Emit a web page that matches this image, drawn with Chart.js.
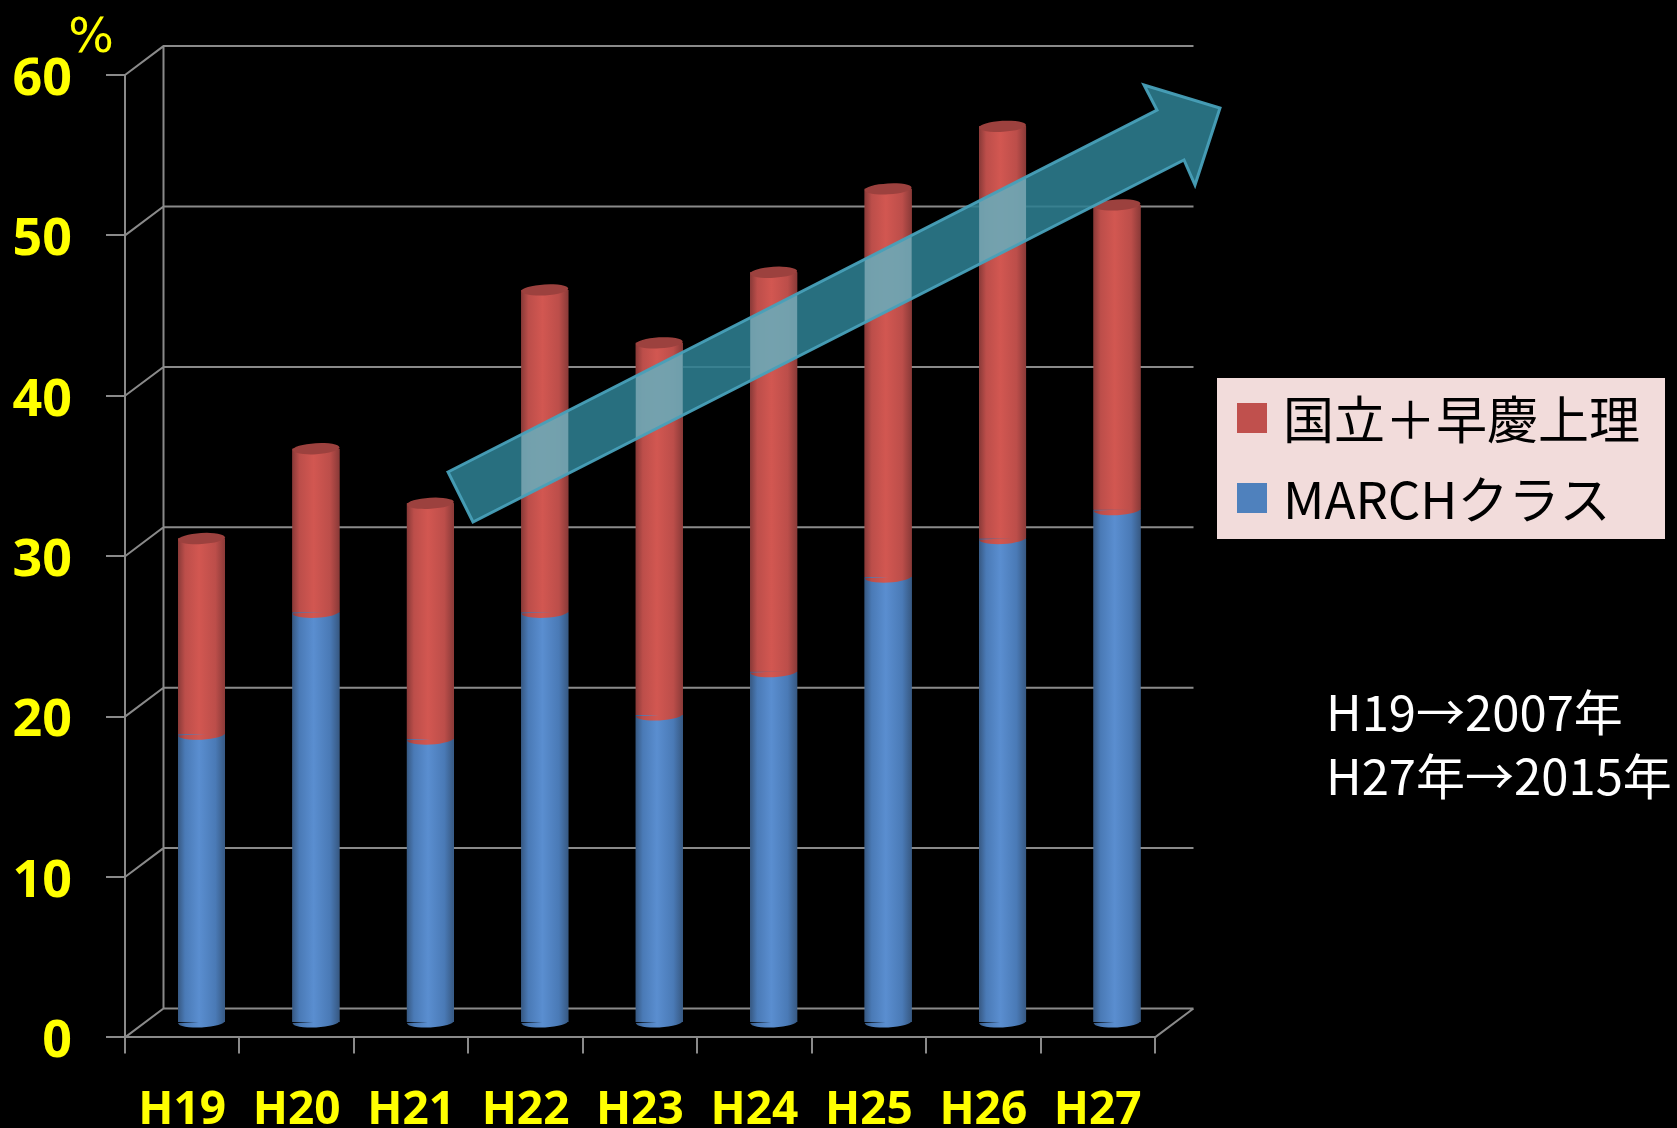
<!DOCTYPE html>
<html>
<head>
<meta charset="utf-8">
<script src="https://cdn.jsdelivr.net/npm/chart.js@4.4.1/dist/chart.umd.min.js"></script>
<style>
    html, body { margin: 0; padding: 0; background: #000; }
    canvas { display: block; }
</style>
</head>
<body>
<canvas id="chart" width="1677" height="1128"></canvas>
<script>
// data
const years = ["H19", "H20", "H21", "H22", "H23", "H24", "H25", "H26", "H27"];
const marchValues = [18.0, 25.6, 17.7, 25.6, 19.2, 21.9, 27.8, 30.2, 32.0];
const kokuritsuValues = [12.2, 10.2, 14.7, 20.1, 23.2, 24.9, 24.2, 25.7, 19.0];
const yTicks = [0, 10, 20, 30, 40, 50, 60];
const seriesNames = ["MARCHクラス", "国立＋早慶上理"];
const noteLines = ["H19→2007年", "H27年→2015年"];
const unitLabel = "%";

const BLUE = "#4F81BD";
const RED = "#C0504D";
const GRID = "#8A8A8A";
const YELLOW = "#FFFF00";
const DEPTH_X = 38.5, DEPTH_Y = -28.9; // back wall offset
const BAR_SHIFT_X = DEPTH_X / 2, BAR_SHIFT_Y = DEPTH_Y / 2; // bars sit at mid depth

// trend arrow outline (decoration)
const arrowShape = [[448, 472], [1157, 110], [1144, 85], [1220, 108], [1195, 185], [1184, 160], [473, 522]];

function cylGradient(ctx, x0, w, c) {
    const g = ctx.createLinearGradient(x0, 0, x0 + w, 0);
    g.addColorStop(0, c[0]);
    g.addColorStop(0.15, c[1]);
    g.addColorStop(0.45, c[2]);
    g.addColorStop(0.8, c[1]);
    g.addColorStop(1, c[0]);
    return g;
}
const blueShades = ["#375983", "#4A7AB6", "#5A8ED0"];
const redShades = ["#8A3A38", "#BC4E4A", "#D25751"];

function arrowPath(ctx) {
    ctx.beginPath();
    arrowShape.forEach((p, i) => i ? ctx.lineTo(p[0], p[1]) : ctx.moveTo(p[0], p[1]));
    ctx.closePath();
}

const pseudo3d = {
    id: "pseudo3d",
    beforeDatasetsDraw(chart) {
        const { ctx, scales: { x, y } } = chart;
        const left = x.left, right = x.right;
        ctx.save();
        ctx.strokeStyle = GRID;
        ctx.lineWidth = 2;
        ctx.beginPath();
        yTicks.forEach(v => {
            const py = y.getPixelForValue(v);
            ctx.moveTo(left, py);
            ctx.lineTo(left + DEPTH_X, py + DEPTH_Y);
            ctx.lineTo(right + DEPTH_X, py + DEPTH_Y);
        });
        const p0 = y.getPixelForValue(0), pTop = y.getPixelForValue(yTicks[yTicks.length - 1]);
        ctx.moveTo(left + DEPTH_X, p0 + DEPTH_Y);
        ctx.lineTo(left + DEPTH_X, pTop + DEPTH_Y);
        ctx.moveTo(right, p0);
        ctx.lineTo(right + DEPTH_X, p0 + DEPTH_Y);
        ctx.stroke();
        ctx.restore();

        ctx.save();
        ctx.translate(BAR_SHIFT_X, BAR_SHIFT_Y);
    },
    afterDatasetsDraw(chart) {
        const { ctx } = chart;
        const ry = 5.5;
        chart.data.datasets.forEach((ds, di) => {
            const meta = chart.getDatasetMeta(di);
            const shades = di === 0 ? blueShades : redShades;
            meta.data.forEach(el => {
                const w = el.width, x0 = el.x - w / 2;
                const g = cylGradient(ctx, x0, w, shades);
                ctx.fillStyle = g;
                ctx.fillRect(x0, el.y, w, el.base - el.y);
                // rounded front bottom
                ctx.beginPath();
                ctx.ellipse(el.x, el.base, w / 2, ry, -0.05, 0, Math.PI);
                ctx.fill();
                if (di === chart.data.datasets.length - 1) {
                    ctx.beginPath();
                    ctx.ellipse(el.x, el.y, w / 2, ry, -0.06, 0, Math.PI * 2);
                    ctx.fillStyle = "#9C413E";
                    ctx.fill();
                }
            });
        });
        ctx.restore();

        // trend arrow
        ctx.save();
        arrowPath(ctx);
        ctx.fillStyle = "rgba(46,126,145,0.88)";
        ctx.fill();
        ctx.clip();
        ctx.translate(BAR_SHIFT_X, BAR_SHIFT_Y);
        ctx.fillStyle = "rgba(200,225,235,0.38)";
        chart.getDatasetMeta(1).data.forEach(el => {
            ctx.fillRect(el.x - el.width / 2, el.y, el.width, el.base - el.y);
        });
        ctx.restore();
        ctx.save();
        arrowPath(ctx);
        ctx.strokeStyle = "rgba(72,160,185,0.95)";
        ctx.lineWidth = 3;
        ctx.lineJoin = "miter";
        ctx.stroke();
        ctx.restore();
    },
    afterDraw(chart) {
        const { ctx } = chart;
        ctx.save();
        // unit
        ctx.fillStyle = YELLOW;
        ctx.font = "48px 'DejaVu Sans'";
        ctx.textAlign = "center";
        ctx.textBaseline = "middle";
        ctx.fillText(unitLabel, 91, 40);

        // legend (reverse order, like the stack)
        ctx.fillStyle = "#F2DCDB";
        ctx.fillRect(1217, 378, 448, 161);
        ctx.textAlign = "left";
        ctx.font = "51px 'Noto Sans CJK JP'";
        const items = chart.data.datasets.slice().reverse();
        items.forEach((ds, i) => {
            const cy = 418 + i * 80;
            ctx.fillStyle = ds.backgroundColor;
            ctx.fillRect(1237, cy - 15, 30, 30);
            ctx.fillStyle = "#000";
            ctx.fillText(ds.label, 1283, cy + 2);
        });

        // notes
        ctx.fillStyle = "#FFFFFF";
        ctx.font = "49px 'Noto Sans CJK JP'";
        ctx.textBaseline = "alphabetic";
        noteLines.forEach((t, i) => ctx.fillText(t, 1326, 731 + i * 64));
        ctx.restore();
    }
};

new Chart(document.getElementById("chart"), {
    type: "bar",
    data: {
        labels: years,
        datasets: [
            { label: seriesNames[0], data: marchValues, backgroundColor: BLUE },
            { label: seriesNames[1], data: kokuritsuValues, backgroundColor: RED }
        ]
    },
    options: {
        responsive: false,
        animation: false,
        layout: { autoPadding: false, padding: { top: 75, right: 522, bottom: 0, left: 0 } },
        datasets: { bar: { barPercentage: 0.41, categoryPercentage: 1, clip: false } },
        plugins: { legend: { display: false }, tooltip: { enabled: false } },
        scales: {
            x: {
                stacked: true,
                afterFit: s => { s.height = 90.6; },
                grid: { offset: true, drawOnChartArea: false, color: GRID, lineWidth: 2, tickLength: 16 },
                border: { color: GRID, width: 2 },
                ticks: {
                    color: YELLOW,
                    padding: 30,
                    font: { family: "'Noto Sans', sans-serif", size: 46, weight: "bold" }
                }
            },
            y: {
                stacked: true,
                min: 0,
                max: 60,
                afterFit: s => { s.width = 125; },
                afterBuildTicks: s => { s.ticks = yTicks.map(v => ({ value: v })); },
                grid: { drawOnChartArea: false, color: GRID, lineWidth: 2, tickLength: 19 },
                border: { color: GRID, width: 2 },
                ticks: {
                    color: YELLOW,
                    padding: 34,
                    labelOffset: 5,
                    font: { family: "'Noto Sans', sans-serif", size: 52, weight: "bold" }
                }
            }
        }
    },
    plugins: [pseudo3d]
});
</script>
</body>
</html>
